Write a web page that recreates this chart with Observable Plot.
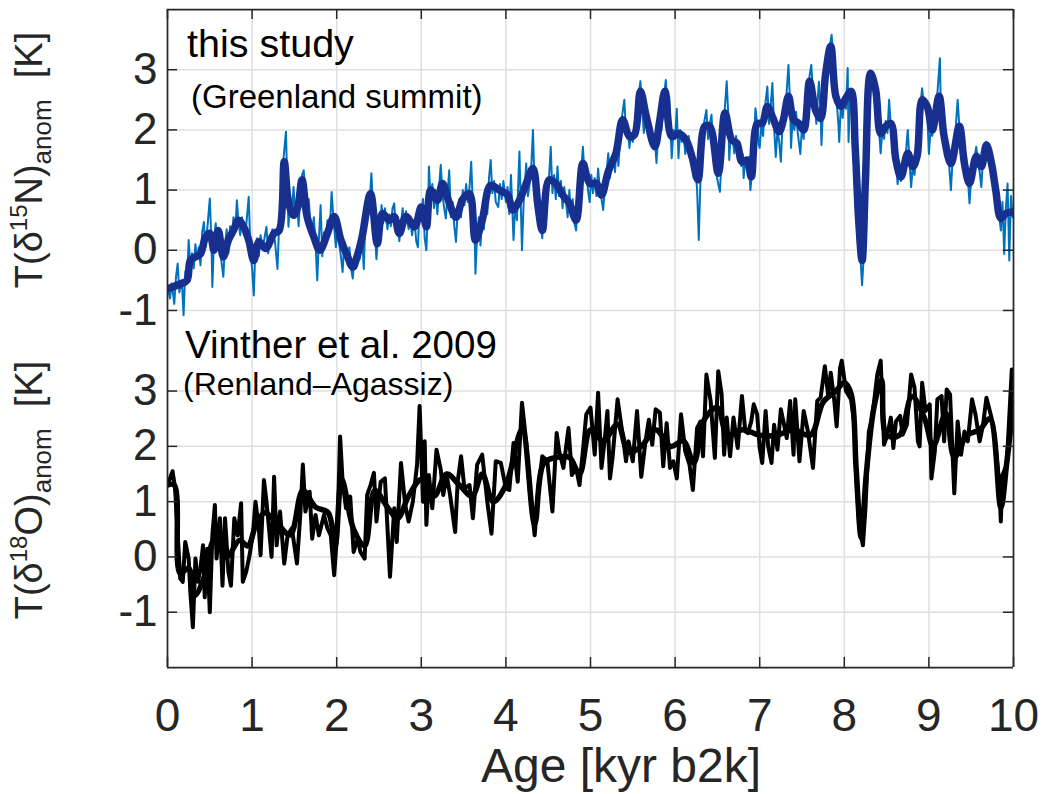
<!DOCTYPE html>
<html><head><meta charset="utf-8">
<script src="https://cdn.jsdelivr.net/npm/d3@7"></script>
<script src="https://cdn.jsdelivr.net/npm/@observablehq/plot@0.6"></script>
<style>
body{margin:0;background:#fff;}
#wrap{position:relative;width:1052px;height:794px;font-family:"Liberation Sans",Arial,sans-serif;background:#fff;}
#wrap svg{position:absolute;left:0;overflow:visible;}
</style></head><body><div id="wrap"></div>
<script>
const xTicks = [0,1,2,3,4,5,6,7,8,9,10];
const yTicks = [-1,0,1,2,3];
const xTickLabels = ["0","1","2","3","4","5","6","7","8","9","10"];
const yTickLabels = ["-1","0","1","2","3"];
const topLabel = "this study", topSub = "(Greenland summit)";
const botLabel = "Vinther et al. 2009", botSub = "(Renland\u2013Agassiz)";
const xTitle = "Age [kyr b2k]";

// this study: raw delta15N temperature anomaly [age kyr, K]
const topRaw = [[0,-0.62],[0.03,-0.8],[0.05,-0.55],[0.08,-0.89],[0.1,-0.45],[0.12,-0.22],[0.14,-0.7],[0.17,-0.5],[0.19,-1.08],[0.21,-0.35],[0.23,-0.55],[0.25,0.17],[0.27,-0.25],[0.29,-0.05],[0.31,-0.3],[0.33,0.1],[0.35,-0.15],[0.37,0.05],[0.39,-0.25],[0.41,0.3],[0.43,0.47],[0.45,0.05],[0.47,0.35],[0.5,0.86],[0.52,0.1],[0.53,-0.61],[0.55,0.2],[0.57,0.45],[0.59,0.1],[0.61,0.3],[0.63,-0.1],[0.66,-0.44],[0.68,0.1],[0.7,0.35],[0.72,-0.05],[0.74,0.4],[0.76,0.2],[0.78,0.55],[0.8,0.3],[0.82,0.83],[0.84,0.45],[0.86,0.25],[0.88,0.55],[0.9,0.3],[0.93,0.4],[0.96,0.89],[0.98,0],[1,-0.3],[1.02,-0.75],[1.04,0.1],[1.06,0.2],[1.08,-0.1],[1.1,0.25],[1.12,0.05],[1.14,0.15],[1.17,0.39],[1.19,-0.05],[1.21,0.2],[1.24,0.35],[1.27,0.15],[1.3,-0.31],[1.32,0.45],[1.35,1],[1.37,1.5],[1.4,1.97],[1.42,0.9],[1.43,0.39],[1.45,0.9],[1.47,0.6],[1.49,1.05],[1.51,0.55],[1.53,0.85],[1.55,0.4],[1.57,0.95],[1.59,1.25],[1.61,1.33],[1.63,0.9],[1.65,0.45],[1.67,0.85],[1.69,0.4],[1.71,0.3],[1.73,0.55],[1.75,0.1],[1.77,-0.5],[1.79,0.2],[1.81,0.75],[1.83,-0.1],[1.85,0.3],[1.87,0.1],[1.89,0.5],[1.92,0.4],[1.94,0.97],[1.96,0.55],[1.99,0.05],[2.01,0.35],[2.03,0.1],[2.05,-0.1],[2.07,-0.36],[2.09,0.15],[2.11,-0.05],[2.13,-0.25],[2.15,0.05],[2.17,-0.3],[2.19,-0.47],[2.21,-0.1],[2.23,-0.3],[2.25,0.05],[2.27,-0.15],[2.3,0.25],[2.32,-0.31],[2.34,0.55],[2.36,0.8],[2.38,0.6],[2.41,1.28],[2.43,0.7],[2.45,0.3],[2.47,-0.15],[2.49,0.3],[2.51,0.1],[2.53,0.75],[2.55,0.45],[2.57,0.7],[2.6,0.35],[2.62,0.6],[2.64,0.4],[2.66,0.7],[2.68,0.78],[2.7,0.35],[2.72,0.5],[2.74,0.15],[2.76,0.45],[2.78,0.7],[2.8,0.4],[2.82,0.65],[2.85,0.35],[2.87,0.55],[2.89,0.25],[2.92,0.5],[2.94,0.15],[2.96,0.05],[2.98,0.75],[3,0.6],[3.02,0.85],[3.04,0.2],[3.06,0],[3.08,0.7],[3.09,1.39],[3.11,0.85],[3.13,1.1],[3.15,0.7],[3.17,1],[3.19,0.6],[3.21,1.05],[3.23,1.42],[3.25,0.95],[3.27,0.7],[3.29,0.53],[3.31,0.95],[3.33,1.33],[3.35,0.55],[3.37,0.8],[3.39,0.4],[3.41,0.14],[3.43,0.65],[3.45,0.85],[3.47,0.55],[3.49,1],[3.51,0.75],[3.53,1.1],[3.55,0.8],[3.57,1.05],[3.59,1.47],[3.61,0.7],[3.63,0.3],[3.64,-0.39],[3.66,0.25],[3.68,0.55],[3.7,0.08],[3.72,0.6],[3.74,0.35],[3.76,0.9],[3.78,0.6],[3.8,1.2],[3.82,1.5],[3.84,0.95],[3.86,1.15],[3.88,0.8],[3.91,0.72],[3.93,1.1],[3.95,0.85],[3.97,1.15],[4,0.8],[4.02,1.05],[4.04,0.6],[4.06,1.25],[4.09,0.17],[4.11,0.75],[4.13,0.5],[4.16,1.64],[4.19,0],[4.21,0.8],[4.24,1.44],[4.26,0.9],[4.28,1.1],[4.3,1.4],[4.32,2],[4.34,1],[4.36,0.72],[4.38,0.9],[4.41,0.45],[4.43,0.2],[4.45,0.8],[4.47,0.55],[4.49,1.05],[4.51,1.2],[4.53,1.72],[4.55,0.95],[4.57,1.25],[4.59,0.85],[4.61,1.39],[4.63,0.9],[4.65,1.15],[4.67,0.7],[4.69,1.05],[4.71,0.8],[4.73,0.55],[4.75,1],[4.77,0.6],[4.79,0.85],[4.81,0.45],[4.83,0.33],[4.85,0.8],[4.87,1.1],[4.89,1.3],[4.91,1.72],[4.93,1.25],[4.95,1.45],[4.97,1],[4.99,0.8],[5.01,1.25],[5.03,0.95],[5.05,1.2],[5.07,0.9],[5.09,1.36],[5.11,1],[5.13,0.85],[5.15,0.67],[5.17,1.05],[5.19,1.3],[5.21,1.61],[5.23,1.2],[5.25,1.4],[5.27,1.55],[5.29,1.3],[5.31,1.8],[5.33,1.4],[5.35,1.85],[5.37,2.2],[5.4,2.5],[5.42,1.95],[5.44,2.05],[5.46,1.7],[5.48,1.95],[5.5,1.8],[5.52,2.05],[5.54,2.3],[5.57,2.6],[5.59,2.81],[5.61,2.4],[5.63,1.95],[5.65,2.35],[5.67,2.15],[5.7,1.9],[5.72,2.05],[5.74,1.7],[5.76,1.85],[5.78,1.45],[5.8,1.9],[5.82,2.25],[5.84,2],[5.86,2.45],[5.89,2.83],[5.91,2.4],[5.93,2.55],[5.95,1.9],[5.96,1.53],[5.98,2],[6,1.85],[6.02,2.35],[6.04,1.53],[6.06,2],[6.08,1.8],[6.1,1.95],[6.12,1.6],[6.14,1.75],[6.16,1.9],[6.18,1.55],[6.2,1.45],[6.22,1.2],[6.24,1.4],[6.26,1],[6.28,0.17],[6.3,1.2],[6.32,1.6],[6.34,2.1],[6.37,2.33],[6.39,1.85],[6.41,2.1],[6.43,2.25],[6.45,1.75],[6.47,1.5],[6.49,1.25],[6.51,1.1],[6.53,0.97],[6.55,1.55],[6.57,2.05],[6.59,2.4],[6.61,2.81],[6.63,2.2],[6.64,1.5],[6.66,2],[6.68,1.85],[6.7,1.61],[6.72,1.9],[6.74,1.6],[6.76,1.75],[6.78,1.4],[6.8,1.6],[6.81,1.2],[6.83,1.5],[6.85,1.35],[6.87,1.55],[6.89,1],[6.91,1.3],[6.93,1.8],[6.95,2.36],[6.97,2.1],[6.99,1.75],[7,1.7],[7.02,2.1],[7.04,1.9],[7.06,2.35],[7.09,2.72],[7.11,2.1],[7.13,2.4],[7.15,2.78],[7.17,2.05],[7.19,1.55],[7.21,2],[7.23,1.8],[7.25,1.47],[7.27,2.1],[7.29,2.35],[7.31,2.45],[7.34,3.08],[7.36,2.4],[7.37,1.7],[7.39,2.2],[7.41,2],[7.43,2.3],[7.45,1.95],[7.48,1.6],[7.5,2.05],[7.52,1.85],[7.54,2.3],[7.56,2.55],[7.59,2.9],[7.61,3.08],[7.63,2.6],[7.65,2.4],[7.67,2.1],[7.69,2.6],[7.7,2.8],[7.72,2.3],[7.73,1.75],[7.75,2.4],[7.77,2.7],[7.79,3],[7.81,3.2],[7.83,3.4],[7.85,3.58],[7.87,3.2],[7.89,2.8],[7.91,2.45],[7.93,2.1],[7.94,1.8],[7.96,2.45],[7.98,2.2],[8,2.55],[8.02,2.35],[8.04,3.03],[8.05,1.8],[8.07,2.6],[8.09,2.5],[8.11,2.1],[8.13,1.6],[8.15,1],[8.17,0.4],[8.19,-0.1],[8.21,-0.58],[8.23,-0.1],[8.25,1.1],[8.27,2],[8.29,2.6],[8.31,2.95],[8.33,2.9],[8.35,2.75],[8.37,2.6],[8.39,2.3],[8.41,2],[8.43,1.61],[8.45,2],[8.47,1.85],[8.49,2.15],[8.51,1.95],[8.53,2.5],[8.55,2.05],[8.57,1.95],[8.59,1.75],[8.61,1.5],[8.63,1.1],[8.65,1.35],[8.67,1.15],[8.69,1.4],[8.71,1.25],[8.73,1.65],[8.75,2],[8.77,1.5],[8.79,1.05],[8.81,1.4],[8.83,1.25],[8.85,1.6],[8.87,1.9],[8.89,2.3],[8.92,2.69],[8.94,2.4],[8.96,2.5],[8.98,2.3],[9,1.6],[9.02,2],[9.04,1.9],[9.06,2.2],[9.08,2.4],[9.1,2.6],[9.13,3.19],[9.14,2.4],[9.16,1.9],[9.18,1.85],[9.2,1.6],[9.22,1.75],[9.24,1.4],[9.26,1],[9.28,1.5],[9.3,1.7],[9.32,2.1],[9.34,2.5],[9.36,2.05],[9.38,1.8],[9.4,1.55],[9.42,1.3],[9.44,1.55],[9.46,1.2],[9.48,0.78],[9.5,1.2],[9.52,1.4],[9.54,1.55],[9.56,1.72],[9.58,1.45],[9.6,1.3],[9.62,1.05],[9.64,1.55],[9.66,1.75],[9.68,1.8],[9.7,1.55],[9.72,1.7],[9.74,1.35],[9.76,1.1],[9.78,1.2],[9.79,0.92],[9.81,0.85],[9.83,0.6],[9.85,0.33],[9.87,0.8],[9.89,-0.06],[9.91,0.7],[9.93,1.11],[9.95,-0.17],[9.97,0.9],[9.99,0.55],[10,0.67]];

// this study: smoothed curve
const topSmooth = [[0,-0.64],[0.15,-0.56],[0.23,-0.5],[0.27,-0.17],[0.33,-0.11],[0.39,-0.06],[0.45,0.22],[0.5,0.28],[0.55,0],[0.6,0.33],[0.66,-0.11],[0.72,0.17],[0.78,0.33],[0.84,0.5],[0.9,0.39],[0.96,0.17],[1.02,-0.17],[1.08,0.14],[1.16,0.03],[1.26,0.28],[1.32,0.33],[1.38,1.47],[1.43,0.8],[1.49,0.58],[1.54,0.72],[1.59,1.17],[1.65,0.56],[1.73,0.22],[1.8,0],[1.89,0.28],[1.97,0.56],[2.05,0.17],[2.13,-0.11],[2.19,-0.28],[2.25,-0.06],[2.3,0.22],[2.4,0.94],[2.48,0.11],[2.54,0.61],[2.62,0.5],[2.68,0.56],[2.74,0.28],[2.82,0.56],[2.92,0.39],[3,0.72],[3.06,0.39],[3.11,1],[3.19,0.83],[3.25,1.11],[3.32,0.83],[3.41,0.55],[3.49,0.85],[3.57,0.94],[3.64,0.17],[3.72,0.5],[3.82,1.08],[3.92,1],[4.02,0.92],[4.08,0.67],[4.16,0.83],[4.24,1.11],[4.32,1.36],[4.38,0.72],[4.43,0.33],[4.51,1.17],[4.59,1.11],[4.67,0.92],[4.75,0.78],[4.83,0.5],[4.91,1.44],[4.99,1.11],[5.07,1.11],[5.13,0.92],[5.21,1.31],[5.3,1.61],[5.38,2.17],[5.46,1.89],[5.52,1.92],[5.59,2.64],[5.66,2.22],[5.76,1.72],[5.82,2.17],[5.88,2.64],[5.96,1.89],[6.04,1.94],[6.13,1.83],[6.2,1.55],[6.27,1.17],[6.35,2.06],[6.41,2.06],[6.51,1.28],[6.59,2.28],[6.67,1.83],[6.73,1.78],[6.79,1.47],[6.85,1.5],[6.9,1.22],[6.97,2.1],[7.03,2.11],[7.09,2.39],[7.15,2.22],[7.23,1.97],[7.28,2.17],[7.34,2.56],[7.4,2.17],[7.46,2.11],[7.52,2],[7.59,2.81],[7.66,2.33],[7.72,2.19],[7.78,2.94],[7.84,3.39],[7.9,2.56],[7.96,2.39],[8.02,2.53],[8.08,2.64],[8.13,1.67],[8.17,0.5],[8.21,-0.17],[8.25,1.17],[8.31,2.94],[8.37,2.67],[8.43,1.94],[8.49,2.06],[8.55,2.11],[8.61,1.5],[8.67,1.22],[8.75,1.61],[8.81,1.39],[8.86,1.56],[8.92,2.5],[8.98,2.39],[9.04,2],[9.12,2.56],[9.18,1.89],[9.26,1.44],[9.36,2.06],[9.42,1.44],[9.48,1.11],[9.56,1.56],[9.62,1.39],[9.68,1.75],[9.74,1.44],[9.79,1],[9.85,0.53],[9.91,0.61],[10,0.64]];

// Vinther et al. 2009: delta18O temperature anomaly
const botRaw = [[0,1.3],[0.06,1.55],[0.09,1.24],[0.13,0.15],[0.15,-0.39],[0.18,-0.45],[0.21,0.27],[0.25,-0.03],[0.27,-0.64],[0.3,-1.27],[0.33,-0.03],[0.36,-0.45],[0.39,-0.21],[0.42,0.21],[0.44,-0.73],[0.47,0.15],[0.5,-1],[0.53,0.39],[0.56,0.94],[0.58,-0.03],[0.62,0.7],[0.65,-0.52],[0.68,0.7],[0.72,-0.27],[0.75,-0.52],[0.79,0.7],[0.83,0.39],[0.87,0.97],[0.89,-0.45],[0.93,-0.27],[0.97,0.03],[1.01,0.42],[1.04,1],[1.08,0.52],[1.1,0.03],[1.14,1.39],[1.17,1],[1.2,0.52],[1.23,0],[1.26,1.45],[1.29,0.21],[1.33,0.82],[1.38,-0.12],[1.42,0.39],[1.47,0.52],[1.53,-0.12],[1.57,0.76],[1.6,1.67],[1.63,0.82],[1.68,1.18],[1.71,0.33],[1.75,0.76],[1.79,0.39],[1.85,0.76],[1.89,0.52],[1.93,0.39],[1.97,-0.33],[2.01,0.52],[2.04,2.18],[2.07,1.36],[2.11,0.88],[2.16,1.09],[2.2,0.09],[2.25,0.33],[2.28,0.09],[2.33,-0.03],[2.36,1.12],[2.4,1.3],[2.44,1.52],[2.47,0.64],[2.52,1.36],[2.57,1.42],[2.63,-0.36],[2.68,0.88],[2.71,0.27],[2.76,1.7],[2.81,0.94],[2.85,0.64],[2.9,1],[2.95,1.67],[2.98,2.73],[3.02,1],[3.04,2.09],[3.06,0.58],[3.09,1.48],[3.13,0.88],[3.18,1.94],[3.23,1.58],[3.26,1.12],[3.3,1.48],[3.34,1.12],[3.4,0.45],[3.43,1.36],[3.47,1.82],[3.51,1.24],[3.57,1.3],[3.61,0.7],[3.66,1.67],[3.72,1.85],[3.78,1],[3.83,0.42],[3.88,1.73],[3.94,1.7],[4,1.24],[4.04,1.21],[4.09,2.06],[4.14,1.36],[4.19,2.79],[4.24,2.09],[4.28,1.24],[4.34,0.39],[4.38,1.18],[4.43,1.82],[4.49,1.73],[4.55,0.82],[4.6,2.24],[4.63,1.91],[4.68,1.61],[4.74,2.33],[4.78,1.48],[4.83,1.61],[4.87,1.3],[4.91,1.91],[4.95,2.58],[5,2.7],[5.05,1.85],[5.09,2.97],[5.13,1.61],[5.17,2.15],[5.2,2.64],[5.23,1.42],[5.26,1.79],[5.32,2.85],[5.38,2.21],[5.42,1.73],[5.45,2.09],[5.5,1.73],[5.55,2.64],[5.6,1.45],[5.65,2.09],[5.69,2.48],[5.73,2.03],[5.77,2.67],[5.82,2.61],[5.86,1.64],[5.9,2.42],[5.94,1.61],[5.98,1.73],[6.02,1.42],[6.07,2.58],[6.12,1.91],[6.17,1.67],[6.21,1.21],[6.26,2.33],[6.3,2.45],[6.33,1.82],[6.37,3.3],[6.42,2.82],[6.47,1.79],[6.51,3.36],[6.55,2.94],[6.58,1.85],[6.61,2.52],[6.65,1.82],[6.69,2.52],[6.74,1.97],[6.79,2.91],[6.83,2.27],[6.86,2.24],[6.9,2.45],[6.93,2.76],[6.97,2.58],[7,1.97],[7.03,1.7],[7.07,2.64],[7.1,2],[7.14,1.7],[7.17,2.39],[7.21,1.94],[7.25,2.67],[7.28,2.45],[7.32,2.15],[7.36,2.82],[7.4,1.85],[7.42,2.85],[7.47,1.73],[7.52,2.64],[7.57,2.27],[7.63,1.61],[7.68,2.82],[7.72,2.88],[7.77,3.45],[7.81,2.91],[7.84,3.33],[7.88,2.85],[7.91,2.36],[7.95,3.42],[7.97,3.55],[8.02,3],[8.08,2.85],[8.12,2.39],[8.15,1.18],[8.18,0.52],[8.22,0.21],[8.25,0.88],[8.29,2.27],[8.33,2.52],[8.39,3.3],[8.43,3.55],[8.47,2.03],[8.51,2.21],[8.55,2.52],[8.58,1.97],[8.61,2.45],[8.66,2.55],[8.69,2.21],[8.74,2.39],[8.79,3.3],[8.83,3.06],[8.87,2.09],[8.89,2],[8.92,3.15],[8.96,2.64],[9.01,2.76],[9.03,1.42],[9.07,1.91],[9.1,2.85],[9.15,2.91],[9.18,2.09],[9.21,3.03],[9.25,2.94],[9.3,1.15],[9.34,2.45],[9.38,1.85],[9.42,2.27],[9.46,2.09],[9.51,2.85],[9.55,2.58],[9.6,2.09],[9.64,2.39],[9.68,2.88],[9.72,2.64],[9.76,2.39],[9.79,1.97],[9.83,1.36],[9.85,0.64],[9.87,1.48],[9.92,1.67],[9.96,2.82],[9.98,3.39],[10,2.7]];

// Vinther et al. 2009: smoothed curve
const botSmooth = [[0,1.3],[0.08,1.3],[0.15,-0.3],[0.25,-0.2],[0.32,-0.7],[0.45,-0.3],[0.55,0.3],[0.7,0],[0.85,0.3],[0.95,0.2],[1.05,0.6],[1.15,0.8],[1.3,0.6],[1.45,0.4],[1.6,1.2],[1.75,0.9],[1.9,0.8],[1.98,0.2],[2.06,1.4],[2.2,0.5],[2.33,0.2],[2.45,1.2],[2.6,0.9],[2.72,0.7],[2.85,1.1],[3,1.4],[3.15,1.1],[3.3,1.5],[3.45,1.3],[3.6,1.1],[3.72,1.5],[3.85,1],[4,1.3],[4.19,2.3],[4.34,0.6],[4.45,1.7],[4.6,1.8],[4.75,1.8],[4.87,1.5],[5,2.3],[5.15,2.1],[5.32,2.4],[5.45,1.9],[5.6,2],[5.77,2.3],[5.95,2],[6.1,2.1],[6.22,1.7],[6.35,2.5],[6.5,2.7],[6.62,2.2],[6.8,2.3],[7,2.2],[7.2,2.2],[7.4,2.3],[7.6,2.2],[7.75,2.8],[7.9,3],[8,3.15],[8.08,2.95],[8.14,1.6],[8.2,0.35],[8.26,1.5],[8.35,2.7],[8.44,3.2],[8.5,2.2],[8.65,2.2],[8.8,2.9],[8.95,2.5],[9.05,2],[9.2,2.6],[9.3,1.8],[9.45,2.2],[9.6,2.3],[9.72,2.5],[9.85,0.9],[9.92,1.7],[10,2.8]];

const W = 1052, ML = 167, MR = 39;
const FONT = "'Liberation Sans', Arial, Helvetica, sans-serif";
const AX = "#262626", GRID = "#dfdfdf";
const px = d => d[0], py = d => d[1];
const fmtY = d => yTickLabels[yTicks.indexOf(d)];
const fmtX = d => xTickLabels[xTicks.indexOf(d)];

function panel(opts) {
  const {height, marginTop, marginBottom, yDomain, marks, extra, xtk} = opts;
  const [y0, y1] = yDomain;
  return Plot.plot({
    width: W, height, marginLeft: ML, marginRight: MR, marginTop, marginBottom,
    x: {domain: [0, 10], axis: null}, y: {domain: yDomain, axis: null},
    style: {fontFamily: FONT, background: "transparent", color: AX},
    marks: [
      Plot.gridX(xTicks.slice(1, -1), {stroke: GRID, strokeOpacity: 1, strokeWidth: 1.5}),
      Plot.gridY(yTicks, {stroke: GRID, strokeOpacity: 1, strokeWidth: 1.5}),
      ...marks,
      Plot.ruleY(yTicks, {x1: 0, x2: 0.12, stroke: AX, strokeWidth: 1.5}),
      Plot.ruleY(yTicks, {x1: 9.88, x2: 10, stroke: AX, strokeWidth: 1.5}),
      Plot.ruleX(xTicks, {y1: xtk[0], y2: xtk[1], stroke: AX, strokeWidth: 1.5}),
      Plot.ruleX([0, 10], {y1: y0, y2: y1, stroke: AX, strokeWidth: 1.75}),
      ...extra,
      Plot.axisY(yTicks, {tickSize: 0, tickPadding: 10, fontSize: 44, fill: AX, label: null, tickFormat: fmtY})
    ]
  });
}

const topChart = panel({
  height: 322, marginTop: 9, marginBottom: 0, yDomain: [-1.2, 4],
  xtk: [4 - 10 / 60.2, 4],
  extra: [Plot.ruleY([4], {x1: 0, x2: 10, stroke: AX, strokeWidth: 1.75})],
  marks: [
    Plot.line(topRaw, {x: px, y: py, stroke: "#0072BD", strokeWidth: 2, clip: true}),
    Plot.line(topSmooth, {x: px, y: py, stroke: "#172f8f", strokeWidth: 7.5, curve: "catmull-rom", clip: true})
  ]
});

const botChart = panel({
  height: 472, marginTop: 0, marginBottom: 127, yDomain: [-2, 4.24],
  xtk: [-2, -2 + 10 / 55.3],
  extra: [
    Plot.ruleY([-2], {x1: 0, x2: 10, stroke: AX, strokeWidth: 1.75}),
    Plot.axisX(xTicks, {tickSize: 0, tickPadding: 31, fontSize: 46, fill: AX, label: null, tickFormat: fmtX})
  ],
  marks: [
    Plot.line(botSmooth, {x: px, y: py, stroke: "#000", strokeWidth: 5.5, curve: "catmull-rom", clip: true}),
    Plot.line(botRaw, {x: px, y: py, stroke: "#000", strokeWidth: 4, strokeLinejoin: "round", clip: true})
  ]
});

const wrap = document.getElementById("wrap");
topChart.style.top = "0px";
botChart.style.top = "322px";
wrap.appendChild(topChart);
wrap.appendChild(botChart);

// overlay with annotations and axis titles
const ov = d3.create("svg").attr("width", W).attr("height", 794)
  .style("top", "0px").style("font-family", FONT);
ov.append("text").attr("x", 187).attr("y", 57).attr("font-size", 39.5).attr("fill", "#000").text(topLabel);
ov.append("text").attr("x", 191).attr("y", 108).attr("font-size", 33).attr("fill", "#000").text(topSub);
ov.append("text").attr("x", 185).attr("y", 358).attr("font-size", 38.5).attr("fill", "#000").text(botLabel);
ov.append("text").attr("x", 183).attr("y", 395).attr("font-size", 32).attr("fill", "#000").text(botSub);
ov.append("text").attr("x", 621).attr("y", 782).attr("font-size", 48).attr("fill", AX)
  .attr("text-anchor", "middle").text(xTitle);

function yTitle(cy, iso, el) {
  const t = ov.append("text").attr("transform", `translate(42,${cy}) rotate(-90)`)
    .attr("text-anchor", "middle").attr("font-size", 38).attr("fill", AX);
  t.append("tspan").text("T(\u03B4");
  t.append("tspan").attr("font-size", 24).attr("dy", -15).text(iso);
  t.append("tspan").attr("dy", 15).text(el + ")");
  t.append("tspan").attr("font-size", 26).attr("dy", 9).text("anom");
  t.append("tspan").attr("dy", -9).text("\u00A0\u00A0[K]");
}
yTitle(160, "15", "N");
yTitle(490, "18", "O");
wrap.appendChild(ov.node());
</script></body></html>
